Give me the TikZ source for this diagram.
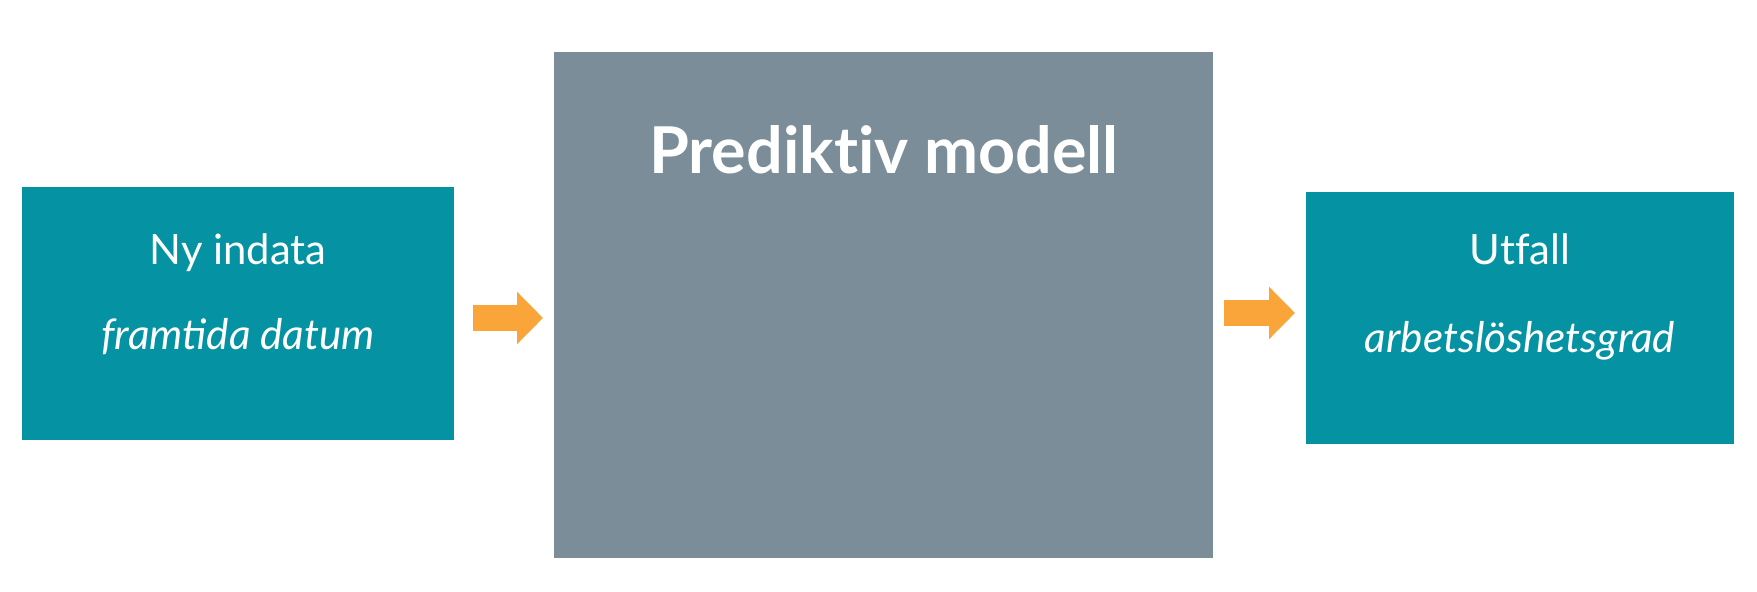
\documentclass[tikz,border=0pt]{standalone}
\usepackage{fontspec}
\setmainfont{Lato}[UprightFeatures={Ligatures=NoCommon},BoldFeatures={Ligatures=NoCommon}]
\usetikzlibrary{arrows.meta}
\definecolor{boxteal}{HTML}{0593A3}
\definecolor{modelgray}{HTML}{7A8D98}
\definecolor{arroworange}{HTML}{FAA53A}
\tikzset{
  databox/.style={rectangle,fill=boxteal,inner sep=0pt},
  modelbox/.style={rectangle,fill=modelgray,inner sep=0pt},
  label/.style={anchor=base,text=white,inner sep=0pt,font=\fontsize{20.9}{24}\selectfont},
  sublabel/.style={label,font=\fontsize{21.1}{24}\selectfont\itshape},
  title/.style={anchor=base,text=white,inner sep=0pt,font=\fontsize{32.3}{38}\selectfont\bfseries},
  flow/.style={arroworange,line width=13pt,-{Triangle[length=13pt,width=25.5pt]}}
}
\begin{document}
\begin{tikzpicture}[x=0.5pt,y=-0.5pt]
  \useasboundingbox (0,0) rectangle (1757,592);
  \node[databox,minimum width=216pt,minimum height=126.5pt] (input) at (238,313.5) {};
  \node[modelbox,minimum width=329.5pt,minimum height=253pt] (model) at (883.5,305) {};
  \node[databox,minimum width=214pt,minimum height=126pt] (output) at (1520,318) {};
  \node[label] (inname) at (238,265) {Ny indata};
  \node[sublabel] (inval) at (238,350) {framtida datum};
  \node[title] (modelname) at (884,174) {Prediktiv modell};
  \node[label] (outname) at (1520,265) {Utfall};
  \node[sublabel] (outval) at (1520,353) {arbetslöshetsgrad};
  \coordinate (in-a) at (473,318);
  \coordinate (in-b) at (543,318);
  \coordinate (out-a) at (1224,313);
  \coordinate (out-b) at (1295,313);
  \draw[flow] (in-a) -- (in-b);
  \draw[flow] (out-a) -- (out-b);
\end{tikzpicture}
\end{document}
